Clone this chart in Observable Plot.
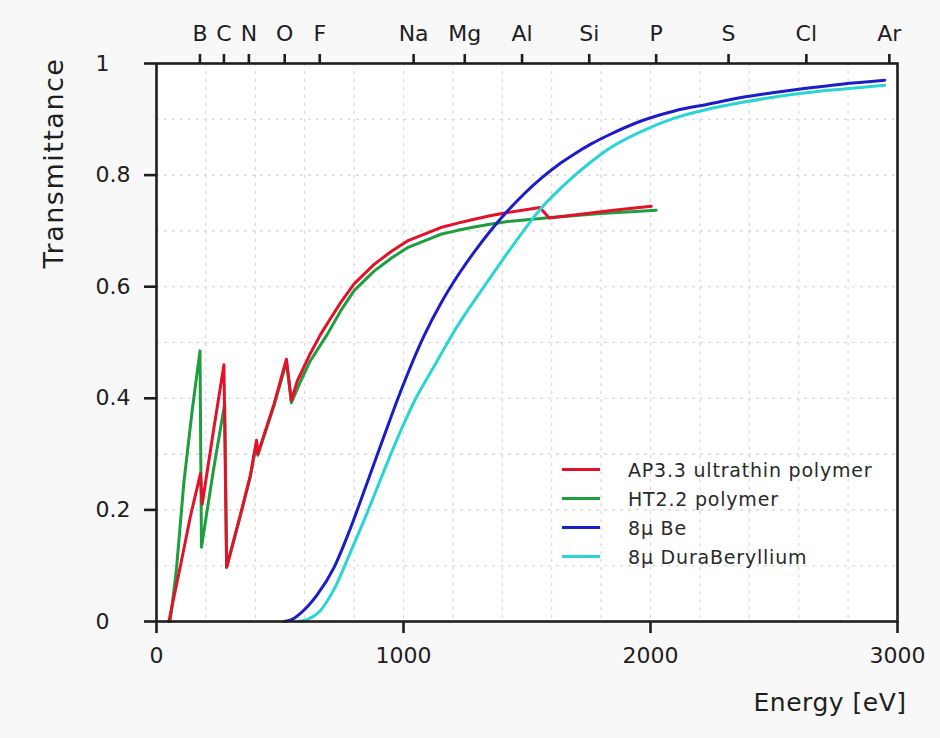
<!DOCTYPE html>
<html><head><meta charset="utf-8">
<script src="https://cdn.jsdelivr.net/npm/d3@7"></script>
<script src="https://cdn.jsdelivr.net/npm/@observablehq/plot@0.6"></script>
<style>
html,body{margin:0;padding:0;background:#f8f8f8;}
#wrap{position:relative;width:940px;height:738px;}
#wrap svg{position:absolute;left:0;top:0;}
#legend{position:absolute;left:562px;top:455px;font-family:"DejaVu Sans",Verdana,sans-serif;font-size:19px;letter-spacing:0.8px;color:#2a2a2a;}
.row{display:flex;align-items:center;height:29px;}
.sw{width:38px;height:3px;margin-right:28px;}
</style></head><body>
<div id="wrap"><div id="legend"></div></div>
<script>
// ---- data ----
const seriesNames = ["AP3.3 ultrathin polymer", "HT2.2 polymer", "8µ Be", "8µ DuraBeryllium"];
const seriesColors = ["#e3122a", "#1e9e3e", "#1c1cc8", "#2ad4d4"];

const ap33Energy = [50, 97, 138, 178, 185, 230, 273, 284, 340, 380, 405, 410, 476, 526, 546, 570, 620, 665, 700, 746, 800, 881, 950, 1016, 1100, 1151, 1220, 1286, 1350, 1422, 1552, 1590, 1700, 1850, 2003];
const ap33T      = [0, 0.10, 0.19, 0.265, 0.21, 0.34, 0.46, 0.097, 0.192, 0.262, 0.325, 0.30, 0.39, 0.470, 0.396, 0.431, 0.478, 0.515, 0.540, 0.572, 0.605, 0.640, 0.663, 0.682, 0.697, 0.706, 0.714, 0.721, 0.727, 0.733, 0.742, 0.723, 0.729, 0.737, 0.744];

const ht22Energy = [55, 80, 111, 145, 176, 182, 230, 276, 284, 340, 380, 405, 410, 476, 526, 546, 584, 620, 692, 746, 800, 881, 950, 1016, 1100, 1151, 1220, 1286, 1350, 1422, 1597, 1800, 2023];
const ht22T      = [0, 0.09, 0.25, 0.38, 0.485, 0.133, 0.27, 0.39, 0.097, 0.19, 0.26, 0.32, 0.298, 0.387, 0.465, 0.392, 0.431, 0.465, 0.515, 0.557, 0.593, 0.628, 0.651, 0.670, 0.685, 0.694, 0.701, 0.707, 0.712, 0.717, 0.724, 0.731, 0.737];

const beEnergy = [516, 545, 584, 651, 719, 786, 854, 921, 989, 1083, 1151, 1220, 1286, 1350, 1422, 1492, 1557, 1638, 1692, 1760, 1827, 1962, 2097, 2232, 2367, 2502, 2638, 2773, 2948];
const beT      = [0, 0.003, 0.015, 0.048, 0.097, 0.168, 0.250, 0.332, 0.413, 0.512, 0.570, 0.620, 0.662, 0.699, 0.736, 0.768, 0.794, 0.822, 0.838, 0.856, 0.871, 0.897, 0.915, 0.927, 0.939, 0.948, 0.956, 0.963, 0.970];

const duraEnergy = [575, 611, 660, 719, 786, 854, 921, 989, 1050, 1117, 1219, 1354, 1489, 1552, 1638, 1692, 1760, 1827, 1962, 2097, 2232, 2367, 2502, 2638, 2773, 2948];
const duraT      = [0, 0.004, 0.018, 0.058, 0.125, 0.196, 0.270, 0.342, 0.400, 0.452, 0.530, 0.618, 0.702, 0.738, 0.777, 0.799, 0.824, 0.846, 0.878, 0.902, 0.918, 0.930, 0.940, 0.948, 0.954, 0.961];

const elementNames    = ["B", "C", "N", "O", "F", "Na", "Mg", "Al", "Si", "P", "S", "Cl", "Ar"];
const elementEnergies = [176, 273, 374, 519, 661, 1041, 1248, 1480, 1752, 2023, 2316, 2631, 2967];

const xTicks = [0, 1000, 2000, 3000];
const yTicks = [0, 0.2, 0.4, 0.6, 0.8, 1];
const xGrid = [200, 400, 600, 800, 1000, 1200, 1400, 1600, 1800, 2000, 2200, 2400, 2600, 2800];
const yGrid = [0.1, 0.2, 0.3, 0.4, 0.5, 0.6, 0.7, 0.8, 0.9];

// ---- build ----
const toRows = (E, T) => E.map((e, i) => ({E: e, T: T[i]}));
const seriesRows = [toRows(ap33Energy, ap33T), toRows(ht22Energy, ht22T), toRows(beEnergy, beT), toRows(duraEnergy, duraT)];
const elemByE = new Map(elementEnergies.map((e, i) => [e, elementNames[i]]));
const font = '"DejaVu Sans", Verdana, sans-serif';
const ink = "#1e1e1e";
const lw = 3;

const chart = Plot.plot({
  width: 940, height: 738,
  marginLeft: 156, marginRight: 43, marginTop: 63, marginBottom: 117,
  style: {background: "transparent", fontFamily: font, color: ink},
  x: {domain: [0, 3000]},
  y: {domain: [0, 1]},
  marks: [
    Plot.frame({fill: "white", stroke: null}),
    Plot.gridX(xGrid, {stroke: "#d2d2d2", strokeOpacity: 1, strokeWidth: 1.1, strokeDasharray: "3,5"}),
    Plot.gridY(yGrid, {stroke: "#d2d2d2", strokeOpacity: 1, strokeWidth: 1.1, strokeDasharray: "3,5"}),
    Plot.line(seriesRows[1], {x: "E", y: "T", stroke: seriesColors[1], strokeWidth: lw}),
    Plot.line(seriesRows[0], {x: "E", y: "T", stroke: seriesColors[0], strokeWidth: lw}),
    Plot.line(seriesRows[3], {x: "E", y: "T", stroke: seriesColors[3], strokeWidth: lw, curve: "monotone-x"}),
    Plot.line(seriesRows[2], {x: "E", y: "T", stroke: seriesColors[2], strokeWidth: lw, curve: "monotone-x"}),
    Plot.frame({stroke: ink, strokeWidth: 2.6}),
    Plot.axisX({anchor: "bottom", ticks: xTicks, tickFormat: d => String(d), tickSize: 12, tickPadding: 14,
      fontSize: 22, strokeWidth: 2.6, stroke: ink, label: null}),
    Plot.axisX({anchor: "top", ticks: elementEnergies, tickFormat: d => elemByE.get(d), tickSize: 10, tickPadding: 13,
      fontSize: 22, strokeWidth: 2.6, stroke: ink, label: null}),
    Plot.axisY({anchor: "left", ticks: yTicks, tickFormat: d => d3.format("~g")(d), tickSize: 12, tickPadding: 49,
      textAnchor: "start", fontSize: 22, strokeWidth: 2.6, stroke: ink, label: null}),
    Plot.text(["Transmittance"], {frameAnchor: "top-left", text: d => d, rotate: -90, textAnchor: "end",
      dx: -113, dy: -6, fontSize: 27, fill: ink}),
    Plot.text(["Energy [eV]"], {frameAnchor: "bottom-right", text: d => d, textAnchor: "end",
      dx: 9, dy: 89, fontSize: 25, fill: ink})
  ]
});
document.getElementById("wrap").prepend(chart);
d3.select(chart).selectAll("text").filter(function(){ return this.textContent === "Transmittance"; }).style("letter-spacing", "1.5px");
d3.select(chart).selectAll("text").filter(function(){ return this.textContent === "Energy [eV]"; }).style("letter-spacing", "0.5px");

// legend
const legend = d3.select("#legend");
seriesNames.forEach((name, i) => {
  const row = legend.append("div").attr("class", "row");
  row.append("div").attr("class", "sw").style("background", seriesColors[i]);
  row.append("div").text(name);
});
</script>
</body></html>
